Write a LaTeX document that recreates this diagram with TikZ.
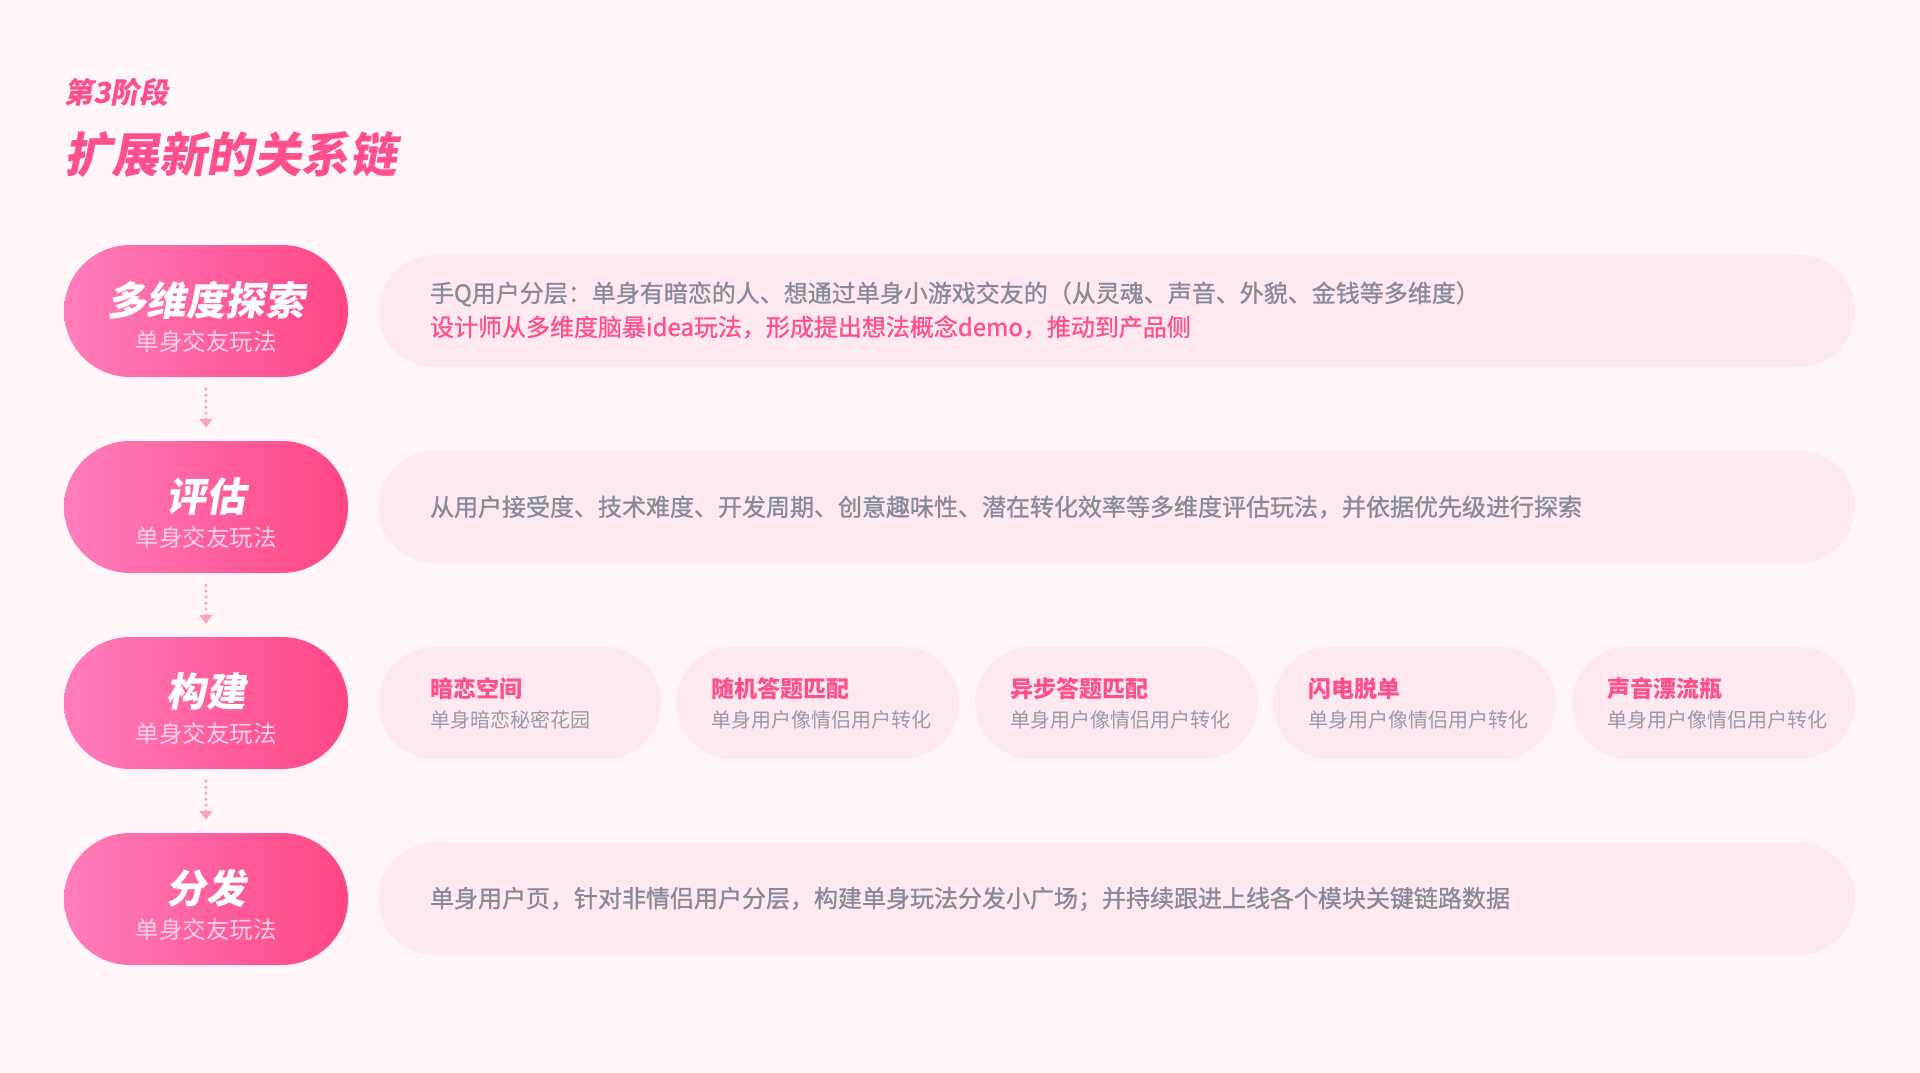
\documentclass[tikz,border=0pt]{standalone}
\usepackage{fontspec}
\setmainfont{Noto Sans CJK SC}
\newfontfamily\headfont[FakeSlant=0.18]{Noto Sans CJK SC}
\newfontfamily\midfont[FakeBold=1]{Noto Sans CJK SC}
\usetikzlibrary{positioning,arrows.meta}
\definecolor{bgpink}{HTML}{FFF6F9}
\definecolor{boxpink}{HTML}{FFE9F0}
\definecolor{hotpink}{HTML}{FF4F8E}
\definecolor{greytext}{HTML}{86899A}
\definecolor{softgrey}{HTML}{9799A8}
\definecolor{pillleft}{HTML}{FF7DBB}
\definecolor{pillright}{HTML}{FF4586}
\definecolor{pillsub}{HTML}{FFD3E4}
\definecolor{dotpink}{HTML}{FFA3C6}
\begin{document}
\begin{tikzpicture}[x=1pt,y=-1pt,
	stagepill/.style={rectangle, rounded corners=66pt, minimum width=284pt, minimum height=132pt, left color=pillleft, right color=pillright, inner sep=0pt},
	stagetitle/.style={text=white, font=\headfont\bfseries\fontsize{39.5}{42}\selectfont, inner sep=0pt},
	stagesub/.style={text=pillsub, font=\fontsize{23.5}{26}\selectfont, inner sep=0pt},
	infobox/.style={rectangle, rounded corners=56pt, fill=boxpink, minimum height=112pt, inner sep=0pt},
	gamebox/.style={infobox, minimum width=283pt},
	infotext/.style={text=greytext, font=\midfont\fontsize{24}{28}\selectfont, anchor=west, inner sep=0pt},
	gametitle/.style={text=hotpink, font=\bfseries\fontsize{23}{26}\selectfont, anchor=west, inner sep=0pt},
	gamesub/.style={text=softgrey, font=\fontsize{20}{24}\selectfont, anchor=west, inner sep=0pt},
	flow/.style={dotpink, line width=3.5pt, line cap=round, dash pattern=on 0pt off 6pt, shorten <=12pt, shorten >=13pt, -{Triangle[width=13pt,length=9pt]}}]
	\fill[bgpink] (0,0) rectangle (1920,1073);

	\node (phase) [anchor=west, inner sep=0pt, text=hotpink, font=\headfont\bfseries\fontsize{29}{32}\selectfont] at (64,92) {第3阶段};
	\node (headline) [anchor=west, inner sep=0pt, text=hotpink, font=\headfont\bfseries\fontsize{47.5}{50}\selectfont] at (64,154) {扩展新的关系链};

	\node (explore)[stagepill] at (206,311) {};
	\node [stagetitle] at ([yshift=11pt]explore.center) {多维度探索};
	\node [stagesub] at ([yshift=-31pt]explore.center) {单身交友玩法};

	\node (assess)[stagepill] at (206,507) {};
	\node [stagetitle] at ([yshift=11pt]assess.center) {评估};
	\node [stagesub] at ([yshift=-31pt]assess.center) {单身交友玩法};

	\node (build)[stagepill] at (206,703) {};
	\node [stagetitle] at ([yshift=11pt]build.center) {构建};
	\node [stagesub] at ([yshift=-31pt]build.center) {单身交友玩法};

	\node (spread)[stagepill] at (206,899) {};
	\node [stagetitle] at ([yshift=11pt]spread.center) {分发};
	\node [stagesub] at ([yshift=-31pt]spread.center) {单身交友玩法};

	\node (exploreinfo)[infobox,minimum width=1477pt] at (1116.5,311) {};
	\node [infotext] at ([xshift=52pt,yshift=17pt]exploreinfo.west) {手Q用户分层：单身有暗恋的人、想通过单身小游戏交友的（从灵魂、声音、外貌、金钱等多维度）};
	\node [infotext,text=hotpink] at ([xshift=52pt,yshift=-16pt]exploreinfo.west) {设计师从多维度脑暴idea玩法，形成提出想法概念demo，推动到产品侧};

	\node (assessinfo)[infobox,minimum width=1477pt] at (1116.5,507) {};
	\node [infotext] at ([xshift=52pt]assessinfo.west) {从用户接受度、技术难度、开发周期、创意趣味性、潜在转化效率等多维度评估玩法，并依据优先级进行探索};

	\node (crush)[gamebox] at (519.5,703) {};
	\node [gametitle] at ([xshift=52pt,yshift=14pt]crush.west) {暗恋空间};
	\node [gamesub] at ([xshift=52pt,yshift=-17pt]crush.west) {单身暗恋秘密花园};

	\node (randomquiz)[gamebox] at (817.5,703) {};
	\node [gametitle] at ([xshift=35pt,yshift=14pt]randomquiz.west) {随机答题匹配};
	\node [gamesub] at ([xshift=35pt,yshift=-17pt]randomquiz.west) {单身用户像情侣用户转化};

	\node (asyncquiz)[gamebox] at (1116.5,703) {};
	\node [gametitle] at ([xshift=35pt,yshift=14pt]asyncquiz.west) {异步答题匹配};
	\node [gamesub] at ([xshift=35pt,yshift=-17pt]asyncquiz.west) {单身用户像情侣用户转化};

	\node (flash)[gamebox] at (1414.5,703) {};
	\node [gametitle] at ([xshift=35pt,yshift=14pt]flash.west) {闪电脱单};
	\node [gamesub] at ([xshift=35pt,yshift=-17pt]flash.west) {单身用户像情侣用户转化};

	\node (bottle)[gamebox] at (1713.5,703) {};
	\node [gametitle] at ([xshift=35pt,yshift=14pt]bottle.west) {声音漂流瓶};
	\node [gamesub] at ([xshift=35pt,yshift=-17pt]bottle.west) {单身用户像情侣用户转化};

	\node (spreadinfo)[infobox,minimum width=1477pt] at (1116.5,899) {};
	\node [infotext] at ([xshift=52pt]spreadinfo.west) {单身用户页，针对非情侣用户分层，构建单身玩法分发小广场；并持续跟进上线各个模块关键链路数据};

	\draw[flow] (explore) -- (assess);
	\draw[flow] (assess) -- (build);
	\draw[flow] (build) -- (spread);
\end{tikzpicture}
\end{document}
